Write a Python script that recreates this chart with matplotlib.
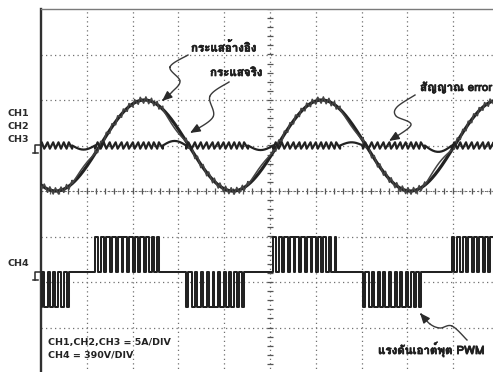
import numpy as np
import matplotlib
matplotlib.use("Agg")
import matplotlib.pyplot as plt
import matplotlib.patheffects as pe
from matplotlib import font_manager
from matplotlib.ft2font import FT2Font

# ---- scope settings -------------------------------------------------------
amps_per_div = 5.0          # CH1, CH2, CH3
volts_per_div = 390.0       # CH4
ch123_ground_div = 1.0
ch4_ground_div = -1.78

# ---- reference current (CH1) ----------------------------------------------
ref_peak_a = 5.0
ref_period_div = 3.87
ref_rising_zero_div = 1.29

# ---- PWM output voltage bursts (CH4) --------------------------------------
burst_start_div = [-0.05, 1.18, 3.17, 5.07, 7.03, 8.97]
burst_end_div = [0.68, 2.66, 4.52, 6.53, 8.38, 10.40]
burst_polarity = [-1, 1, -1, 1, -1, 1]
burst_duty = [
    [0.55, 0.60, 0.60, 0.55, 0.50, 0.40],
    [0.45, 0.55, 0.60, 0.65, 0.70, 0.70, 0.70, 0.65, 0.60, 0.50, 0.40, 0.30],
    [0.40, 0.55, 0.60, 0.65, 0.70, 0.70, 0.65, 0.60, 0.55, 0.45, 0.30],
    [0.45, 0.55, 0.60, 0.65, 0.70, 0.70, 0.70, 0.65, 0.60, 0.50, 0.40, 0.30],
    [0.40, 0.55, 0.60, 0.65, 0.70, 0.70, 0.65, 0.60, 0.55, 0.45, 0.30],
    [0.45, 0.55, 0.60, 0.65, 0.70, 0.70, 0.70, 0.65, 0.60, 0.50, 0.40, 0.30],
]
pwm_level_v = 296.0

# ---- current error (CH3) --------------------------------------------------
ripple_a = 0.35                           # switching ripple, peak
gap_drift_a = [-0.45, 0.50, -0.50, 0.35, -0.70]   # drift while PWM idles

TRACE = "#222222"
GRID = "#707070"

W, H = 493, 372
fig = plt.figure(figsize=(W / 100, H / 100), dpi=100)
fig.patch.set_facecolor("white")
ax = fig.add_axes([41 / W, -1 / H, 458 / W, 364 / H])
ax.set_xlim(0, 10)
ax.set_ylim(-4, 4)
ax.set_xticks([])
ax.set_yticks([])
for side in ("right", "bottom"):
    ax.spines[side].set_visible(False)
ax.spines["left"].set_linewidth(1.7)
ax.spines["left"].set_color("#303030")
ax.spines["top"].set_linewidth(1.0)
ax.spines["top"].set_color("#7a7a7a")


def P(xp, yp):
    """pixel position on the screen -> graticule divisions"""
    return (xp - 41) / 45.8, (191 - yp) / 45.5


def thai_family():
    for f in font_manager.fontManager.ttflist:
        try:
            if ord("ก") in FT2Font(f.fname).get_charmap():
                return f.name
        except Exception:
            pass
    return None


tf = thai_family()
thai_fams = ([tf] if tf else []) + ["DejaVu Sans"]
heavy = [pe.withStroke(linewidth=0.45, foreground="#1e1e1e")]

# ---- graticule ------------------------------------------------------------
dots = (0, (1.0, 2.6))
for gx in range(1, 10):
    ax.axvline(gx, color=GRID, lw=0.9, ls=dots, zorder=1)
for gy in range(-3, 4):
    ax.axhline(gy, color=GRID, lw=0.9, ls=dots, zorder=1)
minor = np.arange(0, 10.01, 0.2)
ax.plot(minor, np.zeros_like(minor), ls="none", marker="|", ms=4,
        mew=0.9, color="#555555", zorder=1)
ax.plot([0, 10], [0, 0], color="#666666", lw=0.7, ls=(0, (2, 2)), zorder=1)
minor_y = np.arange(-4, 4.01, 0.2)
ax.plot(np.full_like(minor_y, 5.0), minor_y, ls="none", marker="_", ms=4,
        mew=0.9, color="#555555", zorder=1)

# ---- CH1 reference current ------------------------------------------------
def ref_current(x):
    return ref_peak_a * np.sin(2 * np.pi * (x - ref_rising_zero_div) / ref_period_div)


xs = np.linspace(-0.2, 10.4, 1500)
ax.plot(xs, ch123_ground_div + ref_current(xs) / amps_per_div,
        color=TRACE, lw=2.3, zorder=4, solid_capstyle="round")

# ---- CH4 PWM voltage and CH3 error built from the bursts -----------------
pwm_x, pwm_v = [-0.3], [0.0]
err_x, err_a = [-0.3], [0.0]
for k, (s0, s1, pol, duty) in enumerate(zip(burst_start_div, burst_end_div,
                                           burst_polarity, burst_duty)):
    period = (s1 - s0) / len(duty)
    for i, d in enumerate(duty):
        s = s0 + i * period
        e = s + d * period
        pwm_x += [s, s, e, e]
        pwm_v += [0.0, pol * pwm_level_v, pol * pwm_level_v, 0.0]
        err_x += [s, e]
        err_a += [-ripple_a, ripple_a]
    err_x.append(s1)
    err_a.append(-ripple_a)
    if k < len(gap_drift_a):
        g0, g1 = s1, burst_start_div[k + 1]
        t = np.linspace(0, 1, 25)
        err_x += list(g0 + t * (g1 - g0))
        err_a += list(gap_drift_a[k] * np.sin(np.pi * t))
pwm_x.append(10.6)
pwm_v.append(0.0)

pwm_x = np.array(pwm_x)
pwm_v = np.array(pwm_v)
ax.plot(pwm_x, ch4_ground_div + pwm_v / volts_per_div, color=TRACE,
        lw=1.45, zorder=3)

err_x = np.array(err_x)
err_a = np.array(err_a)
ax.plot(err_x, ch123_ground_div + err_a / amps_per_div, color=TRACE,
        lw=1.6, zorder=5)

# ---- CH2 actual current ---------------------------------------------------
act = ref_current(err_x) - err_a
ax.plot(err_x, ch123_ground_div + act / amps_per_div, color="#444444",
        lw=1.1, zorder=4)

# ---- channel labels and ground markers -----------------------------------
lab = dict(fontsize=6.8, fontweight="bold", color="#2a2a2a",
           family="DejaVu Sans", va="center", ha="left")
fig.text(8 / W, 1 - 114 / H, "CH1", **lab)
fig.text(8 / W, 1 - 127 / H, "CH2", **lab)
fig.text(8 / W, 1 - 140 / H, "CH3", **lab)
fig.text(8 / W, 1 - 264 / H, "CH4", **lab)


def ground_marker(yp):
    x0, y0 = P(41, yp)
    x1, _ = P(35, yp)
    _, y2 = P(35, yp + 8)
    ax.plot([x0, x1, x1], [y0, y0, y2], color="#2a2a2a", lw=1.1,
            clip_on=False, zorder=6)
    ax.plot([P(32.5, 0)[0], P(37.5, 0)[0]], [y2, y2], color="#2a2a2a",
            lw=1.1, clip_on=False, zorder=6)


ground_marker(145)
ground_marker(272)

# ---- callouts -------------------------------------------------------------
def catmull(points, n=16):
    pts = np.array(points, dtype=float)
    pts = np.vstack([pts[0], pts, pts[-1]])
    out = []
    for i in range(1, len(pts) - 2):
        p0, p1, p2, p3 = pts[i - 1], pts[i], pts[i + 1], pts[i + 2]
        t = np.linspace(0, 1, n)[:, None]
        out.append(0.5 * ((2 * p1) + (-p0 + p2) * t
                          + (2 * p0 - 5 * p1 + 4 * p2 - p3) * t ** 2
                          + (-p0 + 3 * p1 - 3 * p2 + p3) * t ** 3))
    return np.vstack(out)


def squiggle(pixel_points):
    pts = [P(*p) for p in pixel_points]
    c = catmull(pts)
    ax.plot(c[:-3, 0], c[:-3, 1], color="#3a3a3a", lw=1.0, zorder=6)
    ax.annotate("", xy=c[-1], xytext=c[-4],
                arrowprops=dict(arrowstyle="-|>,head_length=0.6,head_width=0.25",
                                color="#2a2a2a", lw=1.0, shrinkA=0, shrinkB=0),
                zorder=7)


squiggle([(188, 55), (170, 67), (180, 81), (172, 92), (162, 101)])
squiggle([(229, 82), (210, 96), (213, 117), (190, 133)])
squiggle([(415, 95), (397, 107), (396, 116), (411, 125), (389, 141)])
squiggle([(467, 340), (452, 326), (440, 328), (430, 324), (420, 313)])

tkw = dict(fontsize=8.3, fontweight="bold", color="#1e1e1e",
           family=thai_fams, va="center", ha="left", path_effects=heavy)
ax.text(*P(191, 47), "กระแสอ้างอิง", **tkw)
ax.text(*P(210, 73), "กระแสจริง", **tkw)
ax.text(*P(420, 87), "สัญญาณ error", clip_on=False, **tkw)
ax.text(*P(378, 349), "แรงดันเอาต์พุต PWM", **tkw)

skw = dict(fontsize=6.8, fontweight="bold", color="#222222",
           family="DejaVu Sans", va="center", ha="left")
ax.text(*P(48, 342), "CH1,CH2,CH3 = 5A/DIV", **skw)
ax.text(*P(48, 355), "CH4 = 390V/DIV", **skw)

fig.savefig("out.png", dpi=100, facecolor="white")
